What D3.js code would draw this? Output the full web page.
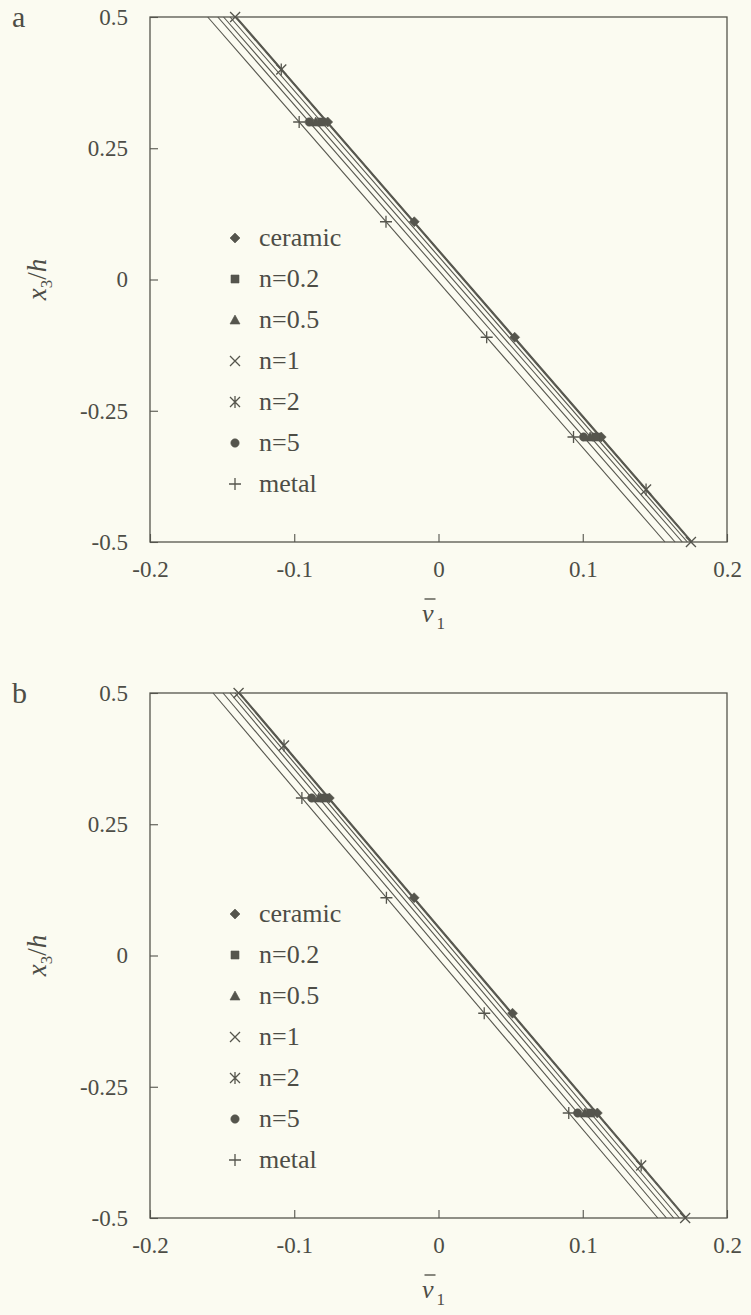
<!DOCTYPE html>
<html>
<head>
<meta charset="utf-8">
<script src="https://cdn.jsdelivr.net/npm/d3@7"></script>
<style>
body { margin: 0; background: #fbfbf1; }
svg { display: block; }
text { font-family: "Liberation Serif", "Times New Roman", serif; fill: #4d4d46; }
</style>
</head>
<body>
<svg id="chart" width="751" height="1315"></svg>
<script>
// series in legend order
var seriesNames = ["ceramic", "n=0.2", "n=0.5", "n=1", "n=2", "n=5", "metal"];
var seriesSymbols = ["diamond", "square", "triangle", "times", "asterisk", "circle", "plus"];
var vTicks = [-0.2, -0.1, 0, 0.1, 0.2];
var zTicks = [0.5, 0.25, 0, -0.25, -0.5];

// panel a: v1 at x3/h = 0.5 and at x3/h = -0.5
var lineEndsA = [[-0.1400, 0.1760], [-0.1445, 0.1725], [-0.1490, 0.1690], [-0.1410, 0.1750],
                 [-0.1405, 0.1755], [-0.1530, 0.1640], [-0.1600, 0.1570]];
// panel a: marked points [x3/h, v1]
var markersA = [
  [[0.3, -0.0768], [0.11, -0.0168], [-0.11, 0.0528], [-0.3, 0.1128]],
  [[0.3, -0.0811], [-0.3, 0.1091]],
  [[0.3, -0.0851], [-0.3, 0.1051]],
  [[0.5, -0.1410], [-0.5, 0.1750]],
  [[0.4, -0.1090], [-0.4, 0.1439]],
  [[0.3, -0.0896], [-0.3, 0.1006]],
  [[0.3, -0.0966], [0.11, -0.0364], [-0.11, 0.0334], [-0.3, 0.0936]]
];

// panel b
var lineEndsB = [[-0.1376, 0.1720], [-0.1410, 0.1670], [-0.1445, 0.1630], [-0.1386, 0.1710],
                 [-0.1381, 0.1715], [-0.1494, 0.1580], [-0.1563, 0.1520]];
var markersB = [
  [[0.3, -0.0757], [0.11, -0.0169], [-0.11, 0.0513], [-0.3, 0.1101]],
  [[0.3, -0.0794], [-0.3, 0.1054]],
  [[0.3, -0.0830], [-0.3, 0.1015]],
  [[0.5, -0.1386], [-0.5, 0.1710]],
  [[0.4, -0.1071], [-0.4, 0.1405]],
  [[0.3, -0.0879], [-0.3, 0.0965]],
  [[0.3, -0.0947], [0.11, -0.0361], [-0.11, 0.0317], [-0.3, 0.0903]]
];

var ink = "#55554d";
var svg = d3.select("#chart");

function symPath(type) {
  if (type == "diamond") return "M0,-5L5,0L0,5L-5,0Z";
  if (type == "square") return "M-4,-4H4V4H-4Z";
  if (type == "triangle") return "M0,-5L5,4L-5,4Z";
  if (type == "circle") return d3.symbol(d3.symbolCircle, 55)();
  if (type == "times") return "M-5,-5L5,5M-5,5L5,-5";
  if (type == "plus") return "M-6,0H6M0,-6V6";
  return "M-5,-5L5,5M-5,5L5,-5M0,-6V6"; // asterisk
}
function filled(type) {
  return type == "diamond" || type == "square" || type == "triangle" || type == "circle";
}
function drawSym(g, type, x, y) {
  g.append("path")
    .attr("d", symPath(type))
    .attr("transform", "translate(" + x + "," + y + ")")
    .attr("fill", filled(type) ? ink : "none")
    .attr("stroke", ink)
    .attr("stroke-width", filled(type) ? 0.6 : 1.3);
}

function drawPanel(letter, top, lineEnds, markers) {
  var left = 150, right = 727, bottom = top + 525;
  var x = d3.scaleLinear().domain([-0.2, 0.2]).range([left, right]);
  var y = d3.scaleLinear().domain([-0.5, 0.5]).range([bottom, top]);
  var g = svg.append("g");

  // lines
  var line = d3.line().x(function(d) { return x(d[1]); }).y(function(d) { return y(d[0]); });
  lineEnds.forEach(function(e) {
    g.append("path")
      .attr("d", line([[0.5, e[0]], [-0.5, e[1]]]))
      .attr("fill", "none")
      .attr("stroke", ink)
      .attr("stroke-width", 1.1);
  });

  // markers
  markers.forEach(function(pts, i) {
    pts.forEach(function(p) { drawSym(g, seriesSymbols[i], x(p[1]), y(p[0])); });
  });

  // axes
  var xAxis = d3.axisBottom(x).tickValues(vTicks).tickSizeInner(-8).tickSizeOuter(0)
    .tickPadding(19).tickFormat(function(d) { return String(d); });
  var yAxis = d3.axisLeft(y).tickValues(zTicks).tickSizeInner(-8).tickSizeOuter(0)
    .tickPadding(22).tickFormat(function(d) { return String(d); });

  var gx = g.append("g").attr("transform", "translate(0," + bottom + ")").call(xAxis);
  var gy = g.append("g").attr("transform", "translate(" + left + ",0)").call(yAxis);
  [gx, gy].forEach(function(a) {
    a.select(".domain").remove();
    a.selectAll("line").attr("stroke", ink).attr("stroke-width", 1.1);
    a.selectAll("text").style("font-size", "23px").attr("fill", "#4d4d46")
      .style("font-family", "'Liberation Serif', serif");
  });

  g.append("rect")
    .attr("x", left).attr("y", top)
    .attr("width", right - left).attr("height", bottom - top)
    .attr("fill", "none").attr("stroke", ink).attr("stroke-width", 1.3);

  // panel letter
  g.append("text").attr("x", 12).attr("y", top + 10).style("font-size", "30px").text(letter);

  // y label
  var yl = g.append("text")
    .attr("transform", "translate(46," + (top + bottom) / 2 + ") rotate(-90)")
    .attr("text-anchor", "middle")
    .style("font-size", "27px");
  yl.append("tspan").style("font-style", "italic").text("x");
  yl.append("tspan").attr("dy", 6).style("font-size", "17px").text("3");
  yl.append("tspan").attr("dy", -6).text("/");
  yl.append("tspan").style("font-style", "italic").text("h");

  // x label
  var xl = g.append("text").attr("x", x(0) - 5).attr("y", bottom + 80)
    .attr("text-anchor", "middle").style("font-size", "26px");
  xl.append("tspan").style("font-style", "italic").text("v");
  xl.append("tspan").attr("dy", 7).attr("dx", 3).style("font-size", "17px").text("1");
  g.append("line")
    .attr("x1", x(0) - 14).attr("x2", x(0) - 3)
    .attr("y1", bottom + 57).attr("y2", bottom + 57)
    .attr("stroke", ink).attr("stroke-width", 1.4);

  // legend
  seriesNames.forEach(function(name, i) {
    var ly = top + 221 + i * 41;
    drawSym(g, seriesSymbols[i], 235, ly);
    g.append("text").attr("x", 259).attr("y", ly + 8).style("font-size", "26px").text(name);
  });
}

drawPanel("a", 17, lineEndsA, markersA);
drawPanel("b", 693, lineEndsB, markersB);
</script>
</body>
</html>
